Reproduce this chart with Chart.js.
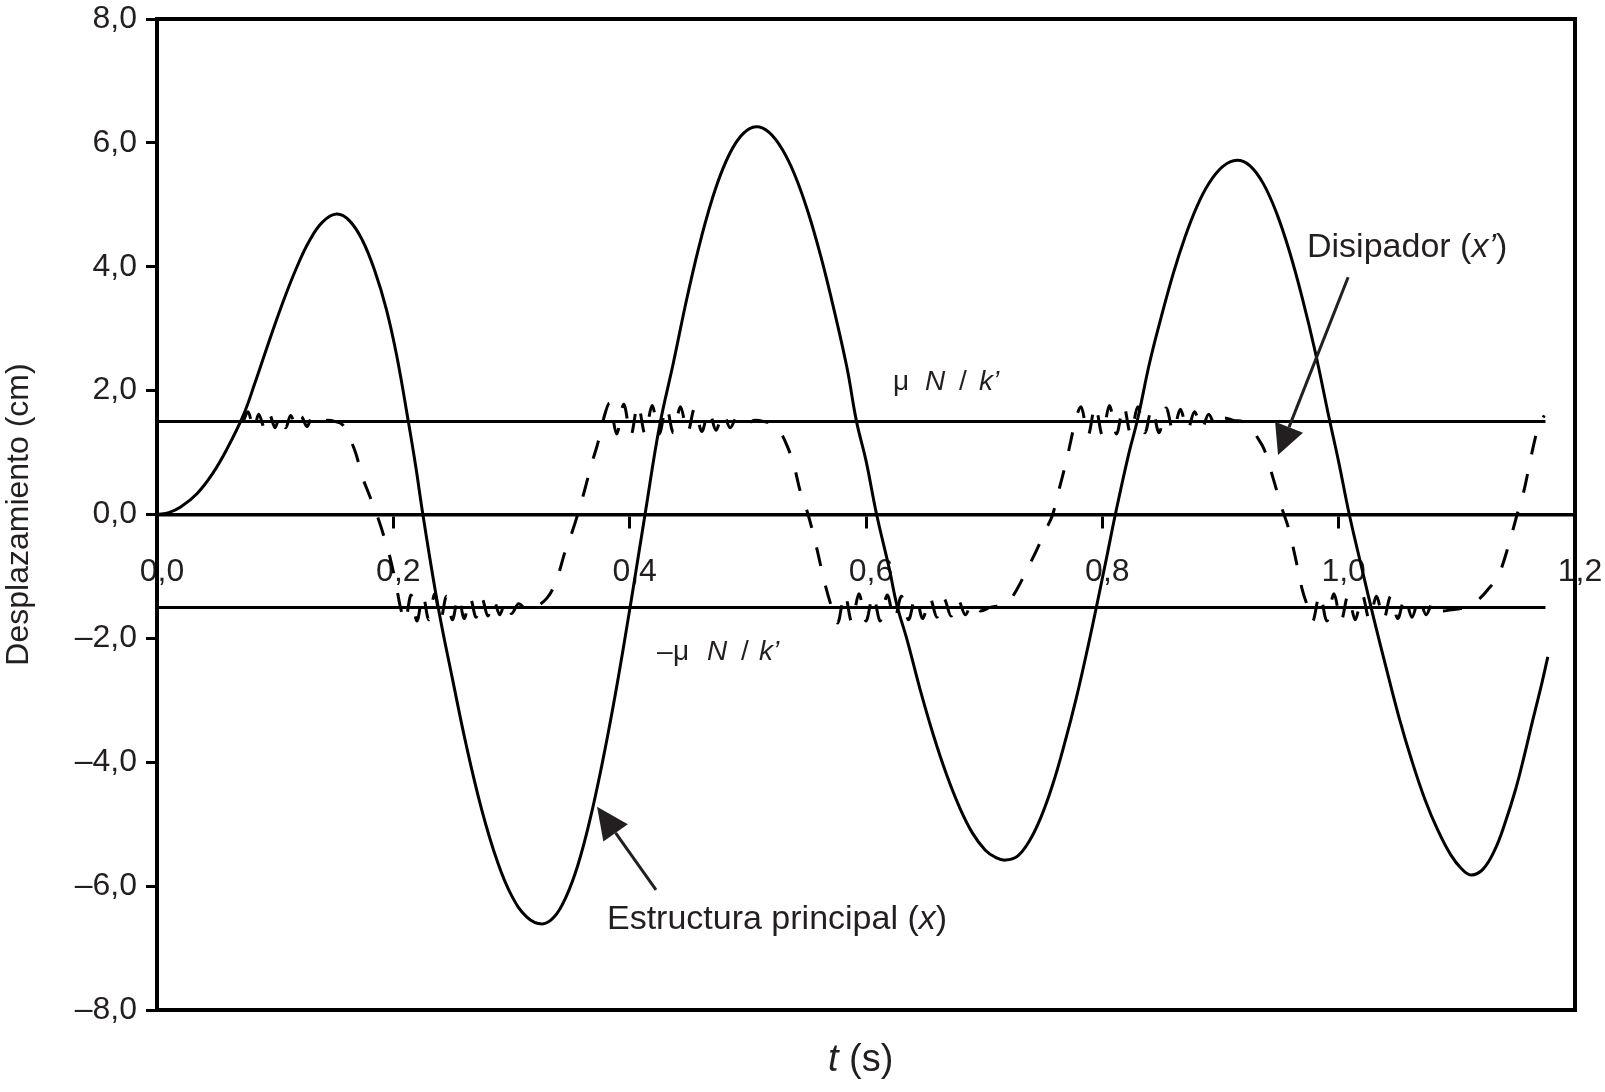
<!DOCTYPE html>
<html>
<head>
<meta charset="utf-8">
<script src="https://cdn.jsdelivr.net/npm/chart.js@4.4.1/dist/chart.umd.min.js"></script>
<style>
  html, body { margin: 0; padding: 0; background: #fff; }
</style>
</head>
<body>
<canvas id="chart" width="1605" height="1092"></canvas>
<script>
// main structure displacement x (cm) vs t (s)
const tMain = [0, 0.01, 0.02, 0.034, 0.047, 0.059, 0.073, 0.083, 0.094, 0.106, 0.118, 0.129, 0.140, 0.152,
  0.163, 0.174, 0.184, 0.194, 0.203, 0.2127, 0.219, 0.225,
  0.238, 0.25, 0.262, 0.275, 0.288, 0.300, 0.313, 0.326,
  0.336, 0.346, 0.356, 0.366, 0.376, 0.386, 0.396, 0.406, 0.413,
  0.425, 0.437, 0.449, 0.461, 0.473, 0.485, 0.496, 0.507,
  0.518, 0.529, 0.540, 0.551, 0.562, 0.573, 0.584, 0.592, 0.600, 0.609,
  0.620, 0.626, 0.635, 0.646, 0.657, 0.668, 0.679, 0.690, 0.701, 0.710, 0.718,
  0.728, 0.738, 0.748, 0.758, 0.768, 0.778, 0.788, 0.796, 0.804, 0.811,
  0.822, 0.830, 0.840, 0.850, 0.860, 0.870, 0.880, 0.890, 0.902, 0.914,
  0.925, 0.936, 0.947, 0.958, 0.969, 0.980, 0.992, 1.000, 1.009,
  1.02, 1.03, 1.04, 1.051, 1.062, 1.073, 1.084, 1.095, 1.104, 1.112,
  1.122, 1.132, 1.141, 1.150, 1.157, 1.164, 1.171, 1.177];
const xMain = [0, 0.03, 0.12, 0.34, 0.66, 1.05, 1.6, 2.13, 2.75, 3.40, 3.98, 4.42, 4.72, 4.85,
  4.74, 4.42, 3.95, 3.32, 2.55, 1.5, 0.77, 0,
  -1.5, -2.65, -3.75, -4.78, -5.6, -6.15, -6.5, -6.61,
  -6.50, -6.18, -5.67, -4.96, -4.09, -3.10, -2.0, -0.83, 0,
  1.4, 2.45, 3.54, 4.5, 5.28, 5.84, 6.15, 6.26,
  6.17, 5.9, 5.47, 4.88, 4.15, 3.3, 2.36, 1.5, 0.87, 0,
  -0.9, -1.45, -2.04, -2.84, -3.56, -4.19, -4.72, -5.14, -5.42, -5.54, -5.58,
  -5.52, -5.28, -4.89, -4.36, -3.7, -2.96, -2.12, -1.4, -0.66, 0,
  0.95, 1.55, 2.45, 3.2, 3.89, 4.48, 4.97, 5.34, 5.62, 5.72,
  5.63, 5.35, 4.89, 4.27, 3.51, 2.64, 1.55, 0.85, 0,
  -0.9, -1.7, -2.46, -3.27, -3.98, -4.6, -5.1, -5.5, -5.72, -5.82,
  -5.73, -5.42, -4.97, -4.42, -3.9, -3.34, -2.8, -2.3];

// dissipator displacement x' (cm)
const tDis = [
  0.073, 0.077, 0.082, 0.086, 0.091, 0.095, 0.100, 0.104, 0.109, 0.113, 0.118, 0.122, 0.127, 0.131, 0.137, 0.144, 0.151, 0.157,
  0.162, 0.168, 0.174, 0.180, 0.186, 0.192, 0.197, 0.202, 0.206,
  0.210, 0.215, 0.220, 0.225, 0.230, 0.235, 0.240, 0.245, 0.250, 0.255, 0.260, 0.265, 0.270, 0.275, 0.280, 0.285, 0.290, 0.295, 0.300, 0.306, 0.313, 0.318, 0.322,
  0.330, 0.335, 0.340, 0.345, 0.351, 0.356, 0.362, 0.368, 0.373, 0.378,
  0.383, 0.389, 0.395, 0.401, 0.407, 0.413, 0.419, 0.425, 0.431, 0.437, 0.443, 0.449, 0.455, 0.461, 0.467, 0.473, 0.479, 0.485, 0.491, 0.498, 0.506, 0.514, 0.521,
  0.527, 0.533, 0.539, 0.544, 0.551, 0.558, 0.565, 0.571,
  0.576, 0.582, 0.588, 0.594, 0.600, 0.606, 0.612, 0.618, 0.624, 0.630, 0.636, 0.642, 0.648, 0.654, 0.660, 0.666, 0.672, 0.678, 0.684, 0.690, 0.697, 0.705, 0.712, 0.717,
  0.722, 0.728, 0.736, 0.745, 0.752, 0.758, 0.764, 0.770, 0.774, 0.777,
  0.782, 0.788, 0.794, 0.800, 0.806, 0.812, 0.818, 0.824, 0.830, 0.836, 0.842, 0.848, 0.854, 0.860, 0.866, 0.872, 0.878, 0.884, 0.890, 0.896, 0.903, 0.911, 0.919, 0.925,
  0.931, 0.937, 0.944, 0.952, 0.958, 0.964, 0.969, 0.974,
  0.978, 0.984, 0.990, 0.996, 1.002, 1.008, 1.014, 1.020, 1.026, 1.032, 1.038, 1.044, 1.050, 1.056, 1.062, 1.068, 1.074, 1.080, 1.087, 1.095, 1.103, 1.110,
  1.118, 1.126, 1.136, 1.143, 1.151, 1.157, 1.163, 1.168, 1.174];
const xDis = [
  1.5, 1.66, 1.38, 1.62, 1.40, 1.62, 1.40, 1.60, 1.40, 1.60, 1.42, 1.58, 1.42, 1.56, 1.46, 1.52, 1.50, 1.45,
  1.28, 1.0, 0.6, 0.3, 0.0, -0.35, -0.68, -1.1, -1.5,
  -1.72, -1.30, -1.72, -1.30, -1.70, -1.28, -1.70, -1.32, -1.70, -1.32, -1.68, -1.34, -1.66, -1.36, -1.64, -1.38, -1.62, -1.40, -1.60, -1.44, -1.53, -1.52, -1.48,
  -1.35, -1.2, -0.95, -0.62, -0.3, 0.0, 0.4, 0.83, 1.15, 1.55,
  1.80, 1.30, 1.78, 1.28, 1.78, 1.30, 1.76, 1.30, 1.74, 1.32, 1.74, 1.32, 1.72, 1.34, 1.68, 1.36, 1.64, 1.40, 1.58, 1.46, 1.52, 1.50, 1.46,
  1.35, 1.12, 0.8, 0.4, 0.0, -0.52, -1.1, -1.5,
  -1.75, -1.28, -1.74, -1.28, -1.72, -1.30, -1.72, -1.30, -1.70, -1.32, -1.70, -1.32, -1.68, -1.34, -1.66, -1.36, -1.64, -1.38, -1.62, -1.42, -1.56, -1.50, -1.48, -1.46,
  -1.38, -1.2, -0.9, -0.55, -0.25, 0.0, 0.45, 0.9, 1.25, 1.5,
  1.74, 1.28, 1.76, 1.28, 1.76, 1.30, 1.76, 1.30, 1.74, 1.32, 1.72, 1.32, 1.72, 1.34, 1.70, 1.36, 1.66, 1.38, 1.62, 1.42, 1.56, 1.52, 1.50, 1.44,
  1.25, 1.05, 0.62, 0.10, -0.25, -0.75, -1.2, -1.5,
  -1.72, -1.28, -1.72, -1.28, -1.72, -1.30, -1.70, -1.30, -1.70, -1.32, -1.70, -1.32, -1.68, -1.34, -1.66, -1.36, -1.62, -1.40, -1.56, -1.54, -1.52, -1.46,
  -1.38, -1.22, -0.95, -0.55, 0.0, 0.4, 0.95, 1.35, 1.6];

// friction limits +/- mu N / k'
const tLimit = [0, 1.175];
const muUpper = [1.5, 1.5];
const muLower = [-1.5, -1.5];

const xTickValues = [0, 0.2, 0.4, 0.6, 0.8, 1.0, 1.2];
const xTickLabels = ['0,0', '0,2', '0,4', '0,6', '0,8', '1,0', '1,2'];
const yTickValues = [-8, -6, -4, -2, 0, 2, 4, 6, 8];
const yTickLabels = ['\u20138,0', '\u20136,0', '\u20134,0', '\u20132,0', '0,0', '2,0', '4,0', '6,0', '8,0'];

const FONT = '"Liberation Sans", Arial, Helvetica, sans-serif';
const TEXT = '#231f20';

const toPoints = (xs, ys) => xs.map((v, i) => ({ x: v, y: ys[i] }));

// runs: [text, italic, offset]; offset null = continue after previous run
function drawRuns(ctx, px, py, size, runs) {
  let cx = px;
  runs.forEach(([txt, italic, dx]) => {
    ctx.font = `${italic ? 'italic ' : ''}${size}px ${FONT}`;
    if (dx !== null) cx = px + dx;
    ctx.fillText(txt, cx, py);
    cx += ctx.measureText(txt).width;
  });
}

function drawArrow(ctx, x0, y0, x1, y1, len, half) {
  const ang = Math.atan2(y1 - y0, x1 - x0);
  const bx = x1 - len * Math.cos(ang);
  const by = y1 - len * Math.sin(ang);
  ctx.beginPath();
  ctx.moveTo(x0, y0);
  ctx.lineTo(bx, by);
  ctx.stroke();
  ctx.beginPath();
  ctx.moveTo(x1, y1);
  ctx.lineTo(bx + half * Math.sin(ang), by - half * Math.cos(ang));
  ctx.lineTo(bx - half * Math.sin(ang), by + half * Math.cos(ang));
  ctx.closePath();
  ctx.fill();
}

const annotate = {
  id: 'annotate',
  afterDraw(chart) {
    const { ctx, chartArea: a, scales: { x, y } } = chart;
    ctx.save();

    // frame
    ctx.strokeStyle = '#000';
    ctx.lineWidth = 4;
    ctx.strokeRect(a.left, a.top, a.right - a.left, a.bottom - a.top);

    // arrows
    ctx.fillStyle = TEXT;
    ctx.strokeStyle = TEXT;
    ctx.lineWidth = 3;
    drawArrow(ctx, x.getPixelForValue(1.008), y.getPixelForValue(3.83),
      x.getPixelForValue(0.9487), y.getPixelForValue(0.96), 30, 15);
    drawArrow(ctx, x.getPixelForValue(0.4223), y.getPixelForValue(-6.06),
      x.getPixelForValue(0.3724), y.getPixelForValue(-4.72), 32, 15);

    // labels
    ctx.textAlign = 'left';
    ctx.textBaseline = 'alphabetic';
    drawRuns(ctx, x.getPixelForValue(0.3808), y.getPixelForValue(-6.69), 34,
      [['Estructura principal (', false, 0], ['x', true, null], [')', false, null]]);
    drawRuns(ctx, x.getPixelForValue(0.9732), y.getPixelForValue(4.157), 34,
      [['Disipador (', false, 0], ['x\u2019', true, null], [')', false, null]]);
    drawRuns(ctx, x.getPixelForValue(0.6229), y.getPixelForValue(2.01), 28,
      [['\u03bc', false, 0], ['N', true, 32], ['/', false, 66], ['k\u2019', true, 86]]);
    drawRuns(ctx, x.getPixelForValue(0.4231), y.getPixelForValue(-2.349), 28,
      [['\u2013', false, 0], ['\u03bc', false, 16], ['N', true, 50], ['/', false, 84], ['k\u2019', true, 102]]);

    // x axis title
    drawRuns(ctx, 828, 1071, 38, [['t', true, 0], [' (s)', false, null]]);

    ctx.restore();
  }
};

new Chart(document.getElementById('chart'), {
  type: 'line',
  data: {
    datasets: [
      {
        label: 'Estructura principal (x)',
        data: toPoints(tMain, xMain),
        borderColor: '#000',
        borderWidth: 3,
        pointRadius: 0,
        tension: 0.4,
        fill: false,
      },
      {
        label: "Disipador (x')",
        data: toPoints(tDis, xDis),
        borderColor: '#000',
        borderWidth: 3,
        borderDash: [19, 20],
        pointRadius: 0,
        cubicInterpolationMode: 'monotone',
        fill: false,
      },
      {
        label: "mu N / k'",
        data: toPoints(tLimit, muUpper),
        borderColor: '#000',
        borderWidth: 3,
        pointRadius: 0,
        fill: false,
      },
      {
        label: "-mu N / k'",
        data: toPoints(tLimit, muLower),
        borderColor: '#000',
        borderWidth: 3,
        pointRadius: 0,
        fill: false,
      },
    ],
  },
  options: {
    responsive: false,
    animation: false,
    layout: { padding: { left: 0, top: 19, right: 30, bottom: 82 } },
    plugins: {
      legend: { display: false },
      tooltip: { enabled: false },
    },
    scales: {
      x: {
        type: 'linear',
        min: 0,
        max: 1.2,
        position: { y: 0 },
        afterBuildTicks: (s) => { s.ticks = xTickValues.map(v => ({ value: v })); },
        afterFit: (s) => { s.paddingLeft = 0; s.paddingRight = 0; s.paddingTop = 0; s.paddingBottom = 0; },
        border: { display: true, color: '#000', width: 3.5 },
        grid: { drawOnChartArea: false, drawTicks: true, tickLength: 12, lineWidth: 3, color: '#000' },
        ticks: {
          padding: 26,
          labelOffset: 5,
          color: TEXT,
          font: { family: FONT, size: 32 },
          maxRotation: 0,
          callback: (v, i) => xTickLabels[i],
        },
      },
      y: {
        type: 'linear',
        min: -8,
        max: 8,
        position: 'left',
        afterBuildTicks: (s) => { s.ticks = yTickValues.map(v => ({ value: v })); },
        afterFit: (s) => { s.width = 157; s.paddingTop = 0; s.paddingBottom = 0; },
        border: { display: true, color: '#000', width: 4 },
        grid: { drawOnChartArea: false, drawTicks: true, tickLength: 11, lineWidth: 3, color: '#000' },
        ticks: {
          padding: 9,
          color: TEXT,
          font: { family: FONT, size: 32 },
          callback: (v, i) => yTickLabels[i],
        },
        title: {
          display: true,
          text: 'Desplazamiento (cm)',
          color: TEXT,
          font: { family: FONT, size: 32 },
          padding: { top: 0, bottom: 0 },
        },
      },
    },
  },
  plugins: [annotate],
});
</script>
</body>
</html>
